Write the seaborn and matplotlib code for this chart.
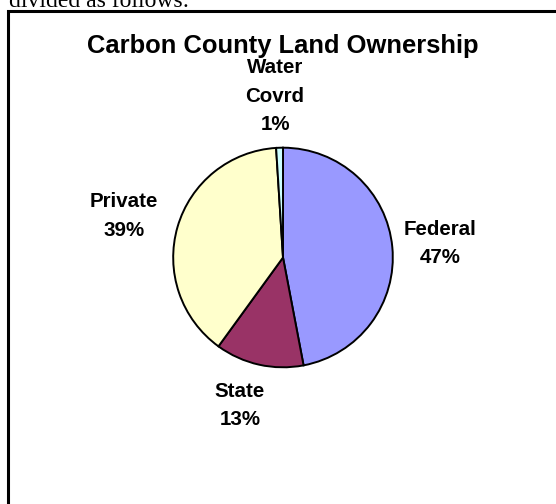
import matplotlib
matplotlib.use("Agg")
import matplotlib.pyplot as plt
import seaborn as sns
from matplotlib.patches import Rectangle

# ---- data ----
categories = ["Federal", "State", "Private", "Water\nCovrd"]
shares = [47, 13, 39, 1]
colors = ["#9999FF", "#993366", "#FFFFCC", "#CCFFFF"]
title = "Carbon County Land Ownership"

sns.set_theme(style="white")
plt.rcParams["font.family"] = ["Liberation Sans", "DejaVu Sans"]

W, H = 556, 504
fig = plt.figure(figsize=(W / 100, H / 100), dpi=100)
fig.patch.set_facecolor("white")

def fx(x):
    return x / W

def fy(y):
    return 1 - y / H

# pie axes: center (283, 257.5), radius 112 px
cx, cy, r = 283, 257.5, 112
ax = fig.add_axes([fx(cx - r), fy(cy + r), 2 * r / W, 2 * r / H])
ax.pie(shares, colors=colors, startangle=90, counterclock=False,
       wedgeprops=dict(edgecolor="black", linewidth=1.4), radius=1.0)
ax.set_xlim(-1.02, 1.02)
ax.set_ylim(-1.02, 1.02)
ax.set_aspect("equal")
ax.axis("off")

# title
fig.text(fx(282.5), fy(46), title, ha="center", va="center",
         fontsize=18.4, fontweight="bold", color="black")

# labels
label_pos = [(440, 243.5), (240, 405.5), (124, 216), (275, 96)]
for cat, val, (lx, ly) in zip(categories, shares, label_pos):
    fig.text(fx(lx), fy(ly), f"{cat}\n{val}%", ha="center", va="center",
             multialignment="center", fontsize=14.8, fontweight="bold",
             color="black", linespacing=1.62)

# border of the chart box (continues past right / bottom edge)
border = Rectangle((fx(8), fy(600)), fx(700), (600 - 11) / H,
                   transform=fig.transFigure, fill=False,
                   edgecolor="black", linewidth=2.2, clip_on=False)
fig.patches.append(border)

# cut-off document text above the chart
fig.text(fx(9), fy(7), "divided as follows:", ha="left", va="baseline",
         fontsize=17, family=["Liberation Serif", "DejaVu Serif"], color="black")

fig.savefig("out.png", dpi=100)
